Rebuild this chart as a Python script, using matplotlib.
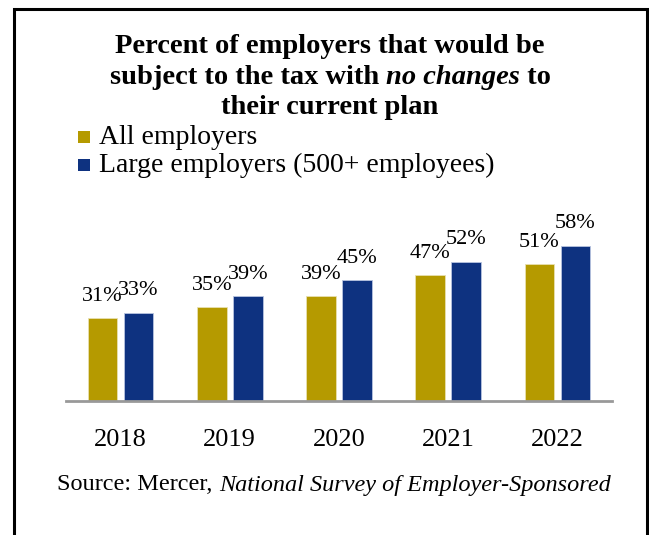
import matplotlib
matplotlib.use("Agg")
import matplotlib.pyplot as plt
from matplotlib.patches import Rectangle

years = ["2018", "2019", "2020", "2021", "2022"]
all_employers = [31, 35, 39, 47, 51]
large_employers = [33, 39, 45, 52, 58]

GOLD = "#B59A00"
BLUE = "#0E3280"
SERIF = "Liberation Serif"

W, H = 649, 535
fig = plt.figure(figsize=(W / 100, H / 100), dpi=100)


def fx(px):
    return px / W


def fy(py):
    return 1 - py / H


# outer frame (bottom edge runs off the picture)
fig.patches.append(Rectangle((fx(14), -0.2), fx(633), fy(9) + 0.2, transform=fig.transFigure,
                             fill=False, edgecolor="black", linewidth=2.2, clip_on=False))

# title, line 2 has an italic phrase in it
TSIZE = 20.5
tkw = dict(family=SERIF, fontsize=TSIZE, fontweight="bold", ha="center", va="center")
fig.text(fx(330), fy(47), "Percent of employers that would be", **tkw)
fig.text(fx(330), fy(107), "their current plan", **tkw)

renderer = fig.canvas.get_renderer()
parts = [("subject to the tax with ", "normal"), ("no changes", "italic"), (" to", "normal")]
pieces = []
for s, style in parts:
    t = fig.text(0, fy(77), s, family=SERIF, fontsize=TSIZE, fontweight="bold", style=style,
                 ha="left", va="center")
    pieces.append(t)
widths = [t.get_window_extent(renderer).width for t in pieces]
x = 330 - sum(widths) / 2
for t, w in zip(pieces, widths):
    t.set_x(x / W)
    x += w

# legend
for py, label, c in [(137, "All employers", GOLD), (165, "Large employers (500+ employees)", BLUE)]:
    fig.patches.append(Rectangle((fx(78), fy(py + 6)), fx(12), 12 / H, transform=fig.transFigure,
                                 facecolor=c, edgecolor="none"))
    fig.text(fx(99), fy(py), label, family=SERIF, fontsize=20, ha="left", va="center")

# bars
ax = fig.add_axes([fx(66), fy(401), fx(612 - 66), 268 / H])
idx = range(len(years))
off, bw = 0.165, 0.27
b1 = ax.bar([i - off for i in idx], all_employers, bw, color=GOLD, edgecolor="#E8E0B0", linewidth=0.6)
b2 = ax.bar([i + off for i in idx], large_employers, bw, color=BLUE, edgecolor="#B8C4E0", linewidth=0.6)
for bars, vals in [(b1, all_employers), (b2, large_employers)]:
    for b, v in zip(bars, vals):
        ax.annotate(f"{v}%", (b.get_x() + b.get_width() / 2, v), xytext=(0, 12.5),
                    textcoords="offset points", ha="center", va="baseline",
                    family=SERIF, fontsize=16)
ax.set_xlim(-0.5, 4.5)
ax.set_ylim(0, 100)
ax.set_xticks(list(idx))
ax.set_xticklabels(years, family=SERIF, fontsize=19)
ax.tick_params(axis="x", length=0, pad=20)
ax.set_yticks([])
for s in ["top", "left", "right"]:
    ax.spines[s].set_visible(False)
ax.spines["bottom"].set_color("#999999")
ax.spines["bottom"].set_linewidth(2)
ax.patch.set_alpha(0)

# source line, partly italic
src = [("Source: Mercer, ", "normal"), ("National Survey of Employer-Sponsored", "italic")]
pieces = [fig.text(0, fy(485), s, family=SERIF, fontsize=17.5, style=st, ha="left", va="center")
          for s, st in src]
widths = [t.get_window_extent(renderer).width for t in pieces]
x = 334 - sum(widths) / 2
for t, w in zip(pieces, widths):
    t.set_x(x / W)
    x += w

fig.savefig("out.png", dpi=100)
